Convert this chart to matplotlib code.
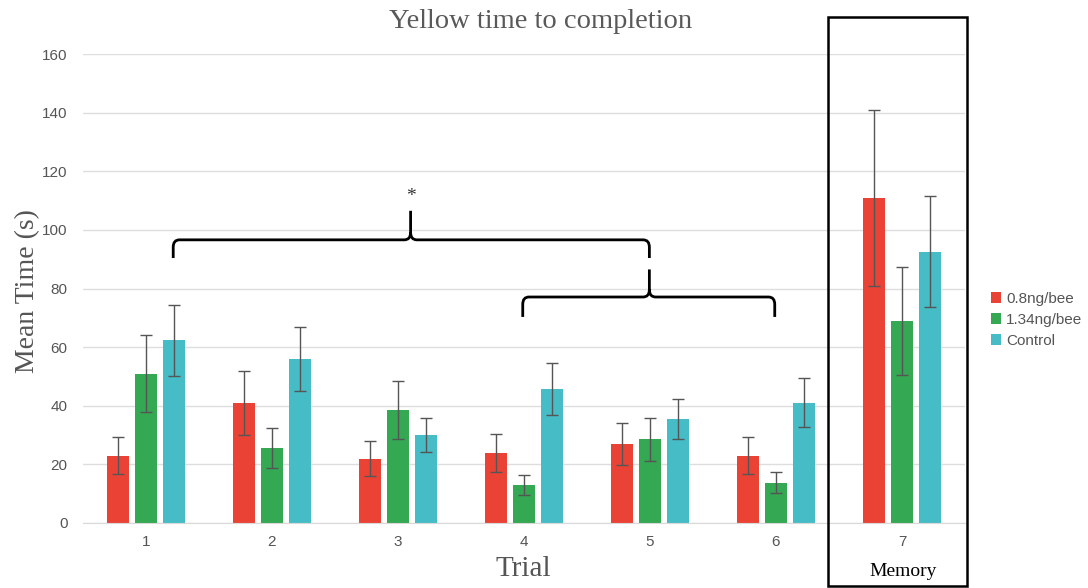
import matplotlib
matplotlib.use("Agg")
import matplotlib.pyplot as plt
from matplotlib.path import Path
from matplotlib.patches import PathPatch, Rectangle
import numpy as np

trials = ["1", "2", "3", "4", "5", "6", "7"]
series_names = ["0.8ng/bee", "1.34ng/bee", "Control"]
low_dose = [23, 41, 22, 24, 27, 23, 111]
low_dose_err = [6.2, 11, 6, 6.5, 7.2, 6.2, 30]
high_dose = [51, 25.5, 38.5, 13, 28.5, 13.8, 69]
high_dose_err = [13.3, 6.8, 10, 3.4, 7.4, 3.7, 18.4]
control = [62.3, 56, 30, 45.8, 35.5, 41, 92.6]
control_err = [12.1, 10.8, 5.7, 8.8, 6.9, 8.4, 18.9]
yticks = [0, 20, 40, 60, 80, 100, 120, 140, 160]

colors = ["#EA4335", "#34A853", "#46BDC6"]
serif = ["Liberation Serif", "DejaVu Serif"]
sans = ["Liberation Sans", "DejaVu Sans"]

fig = plt.figure(figsize=(10.88, 5.88), dpi=100)
ax = fig.add_axes([83/1088, 1-523/588, (965-83)/1088, (523-54)/588])

x = np.arange(len(trials))
w = 0.175
step = 0.223
for i, (vals, errs) in enumerate([(low_dose, low_dose_err), (high_dose, high_dose_err), (control, control_err)]):
    ax.bar(x + (i-1)*step, vals, width=w, color=colors[i], label=series_names[i], zorder=2)
    ax.errorbar(x + (i-1)*step, vals, yerr=errs, fmt="none", ecolor="#555555",
                elinewidth=1, capsize=4, capthick=1, zorder=3)

ax.set_xlim(-0.5, 6.5)
ax.set_ylim(0, 160)
ax.set_yticks(yticks)
ax.set_xticks(x)
ax.set_xticklabels(trials)
for s in ["top", "right", "left"]:
    ax.spines[s].set_visible(False)
ax.spines["bottom"].set_color("#d9d9d9")
ax.grid(axis="y", color="#dedede", linewidth=1, zorder=0)
ax.tick_params(length=0, labelsize=11, labelcolor="#555555", pad=9)
for lab in ax.get_xticklabels() + ax.get_yticklabels():
    lab.set_family(sans)
ax.tick_params(axis="y", pad=11)

fig.text(28/1088, 1-291/588, "Mean Time (s)", family=serif, fontsize=20, color="#555555",
         rotation=90, ha="center", va="center")
fig.text(523/1088, 1-569/588, "Trial", family=serif, fontsize=21, color="#555555",
         ha="center", va="center")
fig.text(541/1088, 1-22/588, "Yellow time to completion", family=serif, fontsize=20.5,
         color="#595959", ha="center", va="center")


def brace(ax, x0, x1, xm, yh, yb, ytip, rx=0.05, ry=2.5):
    verts = [
        (x0, yb), (x0, yh - ry),
        (x0, yh), (x0 + rx, yh),
        (xm - rx, yh),
        (xm, yh), (xm, yh + ry),
        (xm, ytip),
        (xm, yh + ry),
        (xm, yh), (xm + rx, yh),
        (x1 - rx, yh),
        (x1, yh), (x1, yh - ry),
        (x1, yb),
    ]
    codes = [Path.MOVETO, Path.LINETO,
             Path.CURVE3, Path.CURVE3,
             Path.LINETO,
             Path.CURVE3, Path.CURVE3,
             Path.LINETO,
             Path.MOVETO,
             Path.CURVE3, Path.CURVE3,
             Path.LINETO,
             Path.CURVE3, Path.CURVE3,
             Path.LINETO]
    ax.add_patch(PathPatch(Path(verts, codes), fill=False, lw=2, color="black",
                           clip_on=False, zorder=4, capstyle="butt"))

brace(ax, 0.216, 3.995, 2.10, 96.6, 90.4, 106.5)
brace(ax, 2.99, 4.99, 3.995, 77.1, 70.3, 86.5)
ax.text(2.10, 108.5, "*", ha="center", va="bottom", fontsize=14, color="#333333", family=serif)

fig.patches.append(Rectangle((828/1088, 1-586/588), (967-828)/1088, (586-17)/588,
                             transform=fig.transFigure, fill=False, lw=1.8,
                             edgecolor="black"))
fig.text(903/1088, 1-572/588, "Memory", family=serif, fontsize=14, color="black",
         ha="center", va="center")

leg = fig.legend(loc="center left", bbox_to_anchor=(977/1088, 1-320/588), frameon=False,
                 prop={"family": sans, "size": 11}, handlelength=0.7, handleheight=0.7,
                 handletextpad=0.3, labelspacing=0.45)
for t in leg.get_texts():
    t.set_color("#555555")

fig.savefig("out.png", dpi=100)
